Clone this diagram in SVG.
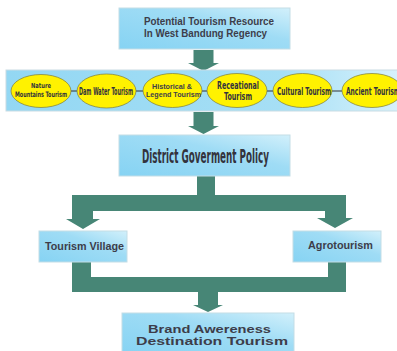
<svg xmlns="http://www.w3.org/2000/svg" width="397" height="351" viewBox="0 0 397 351">
<defs>
<linearGradient id="g" x1="0" y1="1" x2="1" y2="0">
<stop offset="0" stop-color="#86d3f3"/>
<stop offset="0.6" stop-color="#9fdcf5"/>
<stop offset="1" stop-color="#d2f0fb"/>
</linearGradient>
<linearGradient id="gb" x1="0" y1="0" x2="1" y2="0">
<stop offset="0" stop-color="#93d7f3"/>
<stop offset="0.7" stop-color="#a6dff5"/>
<stop offset="1" stop-color="#d8f2fc"/>
</linearGradient>
<style>
.box{fill:url(#g);stroke:#c3dde6;stroke-width:1}
.band{fill:url(#gb);stroke:#c9dce3;stroke-width:1}
.ell{fill:#fff200;stroke:#7a7a40;stroke-width:0.7}
.arr{fill:#478676}
.dash{stroke:#333;stroke-width:1}
.t{font-family:"Liberation Sans",Arial,sans-serif;font-weight:bold;fill:#3d3d4a}
.n{font-family:"Liberation Sans Narrow","DejaVu Sans Condensed","Liberation Sans",sans-serif;font-weight:bold;fill:#33333d}
</style>
</defs>
<rect width="397" height="351" fill="#ffffff"/>
<g id="connectors">
<path class="arr" d="M193.5,50 H213.5 V63 H219 L203.5,71 L188,63 H193.5 Z"/>
<path class="arr" d="M193.5,112 H213.5 V126 H219 L203.5,134 L188,126 H193.5 Z"/>
<path class="arr" d="M197,176 H215 V195 H346 V218 H353 L335,228 L317,218 H325 V211 H93 V219 H100 L83,229 L66,219 H72 V195 H197 Z"/>
<path class="arr" d="M72,262 H91 V277 H328 V262 H346 V292 H218 V305 H223 L208,312 L193,305 H198 V292 H72 Z"/>
</g>
<g id="n-potential">
<rect class="box" x="119" y="8" width="171" height="41"/>
<text class="t" x="144" y="25" font-size="10" textLength="130" lengthAdjust="spacingAndGlyphs">Potential Tourism Resource</text>
<text class="t" x="144" y="37" font-size="10" textLength="123" lengthAdjust="spacingAndGlyphs">In West Bandung Regency</text>
</g>
<g id="n-band">
<rect class="band" x="6" y="70" width="396" height="41"/>
<line class="dash" x1="71" y1="91" x2="77" y2="91"/>
<line class="dash" x1="136" y1="91" x2="143" y2="91"/>
<line class="dash" x1="202" y1="91" x2="207" y2="91"/>
<line class="dash" x1="267" y1="91" x2="273" y2="91"/>
<line class="dash" x1="332" y1="91" x2="342" y2="91"/>
</g>
<g id="n-nature">
<ellipse class="ell" cx="41" cy="91" rx="30" ry="16.5"/>
<text class="n" x="41" y="88" font-size="7" text-anchor="middle" textLength="20" lengthAdjust="spacingAndGlyphs">Nature</text>
<text class="n" x="41" y="97" font-size="7.5" text-anchor="middle" textLength="52" lengthAdjust="spacingAndGlyphs">Mountains Tourism</text>
</g>
<g id="n-dam">
<ellipse class="ell" cx="106.5" cy="91" rx="29.5" ry="17"/>
<text class="n" x="106" y="95" font-size="10" text-anchor="middle" textLength="54" lengthAdjust="spacingAndGlyphs">Dam Water Tourism</text>
</g>
<g id="n-historical">
<ellipse class="ell" cx="172.5" cy="90.5" rx="29.5" ry="17"/>
<text class="t" x="172" y="88.5" font-size="6.3" text-anchor="middle" textLength="40" lengthAdjust="spacingAndGlyphs">Historical &amp;</text>
<text class="t" x="173.5" y="96.5" font-size="6.3" text-anchor="middle" textLength="55" lengthAdjust="spacingAndGlyphs">Legend Tourism</text>
</g>
<g id="n-receational">
<ellipse class="ell" cx="237" cy="90.5" rx="30" ry="17"/>
<text class="n" x="238" y="89" font-size="10" text-anchor="middle" textLength="42" lengthAdjust="spacingAndGlyphs">Receational</text>
<text class="n" x="238" y="100" font-size="10" text-anchor="middle" textLength="28" lengthAdjust="spacingAndGlyphs">Tourism</text>
</g>
<g id="n-cultural">
<ellipse class="ell" cx="302.5" cy="90.5" rx="29.5" ry="17"/>
<text class="n" x="304" y="95" font-size="10" text-anchor="middle" textLength="54" lengthAdjust="spacingAndGlyphs">Cultural Tourism</text>
</g>
<g id="n-ancient">
<ellipse class="ell" cx="372" cy="90.5" rx="30" ry="17"/>
<text class="n" x="346" y="95" font-size="10" textLength="54" lengthAdjust="spacingAndGlyphs">Ancient Tourism</text>
</g>
<g id="n-policy">
<rect class="box" x="119" y="135" width="171" height="41"/>
<text class="n" x="142" y="163" font-size="20" textLength="127" lengthAdjust="spacingAndGlyphs" fill="#2f3540">District Goverment Policy</text>
</g>
<g id="n-village">
<rect class="box" x="39" y="231" width="88" height="31"/>
<text class="t" x="45" y="250" font-size="10" textLength="79" lengthAdjust="spacingAndGlyphs">Tourism Village</text>
</g>
<g id="n-agro">
<rect class="box" x="293" y="231" width="88" height="31"/>
<text class="t" x="308" y="249" font-size="10" textLength="65" lengthAdjust="spacingAndGlyphs">Agrotourism</text>
</g>
<g id="n-brand">
<rect class="box" x="122" y="313" width="172" height="42"/>
<text class="t" x="148" y="333" font-size="11.5" textLength="123" lengthAdjust="spacingAndGlyphs">Brand Awereness</text>
<text class="t" x="136" y="344.5" font-size="11.5" textLength="152" lengthAdjust="spacingAndGlyphs">Destination Tourism</text>
</g>
</svg>
